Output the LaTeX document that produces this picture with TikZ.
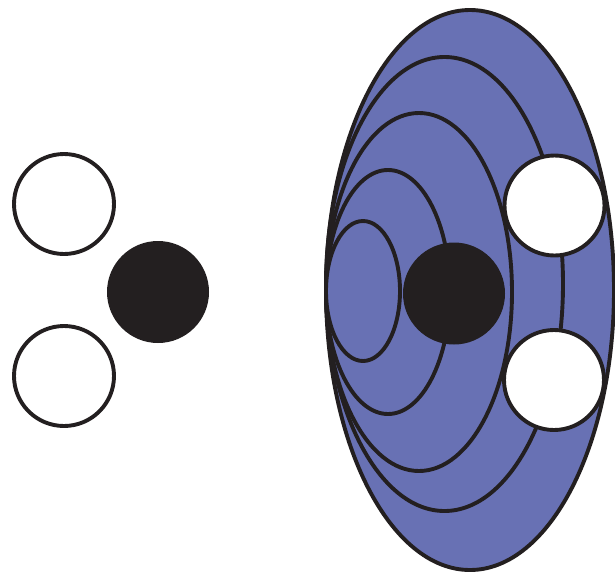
\documentclass[tikz,border=0pt]{standalone}
\usepackage{xcolor}
\definecolor{shellblue}{RGB}{104,113,180}
\definecolor{coreblack}{RGB}{35,31,32}
\tikzset{
  shell/.style={draw=coreblack, line width=3.9pt, fill=shellblue},
  emptyball/.style={draw=coreblack, line width=3.9pt, fill=white},
  fullball/.style={fill=coreblack}
}
\begin{document}
\begin{tikzpicture}[x=1pt, y=-1pt]
    \useasboundingbox (0,0) rectangle (615,573);

    % Left group
    \draw[emptyball] (64,204) circle (50pt);
    \draw[emptyball] (64,376) circle (50pt);
    \fill[fullball] (158,292) circle (51pt);

    % Nested shells
    \draw[shell] (470,290) ellipse [x radius=144pt, y radius=280pt];
    \draw[shell] (444.5,284) ellipse [x radius=118.5pt, y radius=227pt];
    \draw[shell] (419,292) ellipse [x radius=93pt, y radius=179pt];
    \draw[shell] (388,292) ellipse [x radius=62pt, y radius=122pt];
    \draw[shell] (363,291) ellipse [x radius=37pt, y radius=70pt];

    % Balls inside the shells
    \fill[fullball] (454,293.5) circle (51pt);
    \draw[emptyball] (554.5,205.5) circle (50pt);
    \draw[emptyball] (554,380) circle (50pt);
\end{tikzpicture}
\end{document}
